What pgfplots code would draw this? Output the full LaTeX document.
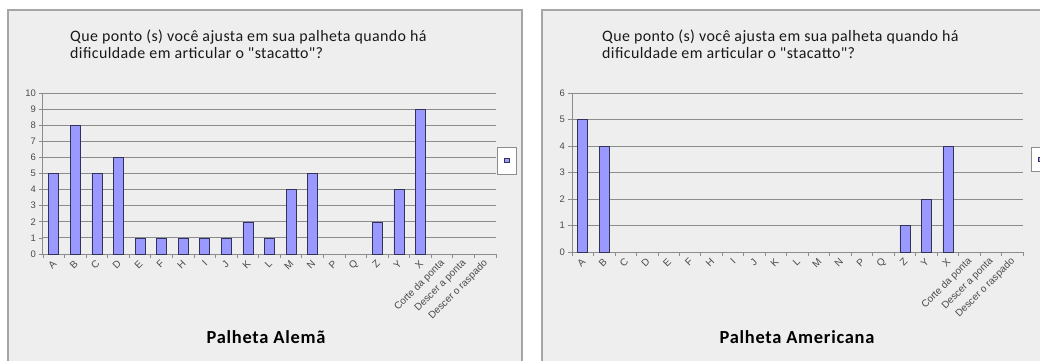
\documentclass[border=0pt]{standalone}
\usepackage{pgfplots}
\pgfplotsset{compat=1.18}
\usepackage{fontspec}
\setmainfont{Carlito}
\newfontfamily\carlito{Carlito}
\newfontfamily\arial{Liberation Sans}
\definecolor{barfill}{HTML}{9999FF}
\definecolor{baredge}{HTML}{33335A}
\definecolor{panelbg}{HTML}{EEEEEE}
\definecolor{gridc}{HTML}{8C8C8C}
\definecolor{tickc}{HTML}{4A4A4A}
\definecolor{borderc}{HTML}{A6A6A6}

\pgfplotsset{panel/.style={
 scale only axis, anchor=south west,
 xmin=-0.5, xmax=20.5, ymin=0,
 axis lines=left, axis line style={-, draw=gridc, line width=1bp},
 xtick={-0.5,0.5,...,20.5},
 xticklabels={},
 extra x ticks={0,1,...,20},
 extra x tick labels={A,B,C,D,E,F,H,I,J,K,L,M,N,P,Q,Z,Y,X,Corte da ponta,Descer a ponta,Descer o raspado},
 extra x tick style={major tick length=0pt, tick style={draw=none},
   ticklabel style={yshift=-8bp, xshift=1bp, rotate=45, anchor=east, font=\arial\fontsize{10}{11}\selectfont, text=tickc, inner sep=0pt}},
 tick align=outside,
 major tick length=4bp,
 tick style={draw=gridc, line width=0.8bp},
 ytick distance=1,
 ymajorgrids, grid style={draw=gridc, line width=1bp},
 yticklabel style={font=\arial\fontsize{9.5}{10}\selectfont, text=tickc, inner sep=1bp, xshift=-2bp},
 /pgf/number format/assume math mode=true,
 ybar, bar width=10bp,
 y filter/.expression={y==0 ? nan : y},
 clip=false,
}}

\pgfplotstableread{
x y
0 5
1 8
2 5
3 6
4 1
5 1
6 1
7 1
8 1
9 2
10 1
11 4
12 5
13 0
14 0
15 2
16 4
17 9
18 0
19 0
20 0
}\alema

\pgfplotstableread{
x y
0 5
1 4
2 0
3 0
4 0
5 0
6 0
7 0
8 0
9 0
10 0
11 0
12 0
13 0
14 0
15 1
16 2
17 4
18 0
19 0
20 0
}\americana

\begin{document}
\begin{tikzpicture}
\useasboundingbox (0,0) rectangle (1040bp,-361bp);
% panels
\fill[white] (0,0) rectangle (1040bp,-361bp);
\fill[panelbg] (8bp,-10bp) rectangle (522bp,-380bp);
\draw[borderc, line width=1.6bp] (8bp,-380bp) -- (8bp,-10bp) -- (522bp,-10bp) -- (522bp,-380bp);
\fill[panelbg] (542bp,-10bp) rectangle (1060bp,-380bp);
\draw[borderc, line width=1.6bp] (542bp,-380bp) -- (542bp,-10bp) -- (1060bp,-10bp);

% titles
\node[anchor=base west, align=left, inner sep=0pt, font=\carlito\addfontfeatures{LetterSpace=2.6}\fontsize{16}{17}\selectfont, text=black!90] at (70bp,-58bp)
 {Que ponto (s) você ajusta em sua palheta quando há\\dificuldade em articular o "stacatto"?};
\node[anchor=base west, align=left, inner sep=0pt, font=\carlito\addfontfeatures{LetterSpace=2.6}\fontsize{16}{17}\selectfont, text=black!90] at (602bp,-58bp)
 {Que ponto (s) você ajusta em sua palheta quando há\\dificuldade em articular o "stacatto"?};

\begin{axis}[panel, at={(43bp,-254bp)}, width=453bp, height=161bp, ymax=10]
\addplot[fill=barfill, draw=baredge, line width=0.6bp] table[x=x,y=y] {\alema};
\end{axis}

\begin{axis}[panel, at={(572bp,-252bp)}, width=451bp, height=159bp, ymax=6]
\addplot[fill=barfill, draw=baredge, line width=0.6bp] table[x=x,y=y] {\americana};
\end{axis}

% bottom titles
\node[anchor=base, inner sep=0pt, font=\carlito\bfseries\addfontfeatures{LetterSpace=4}\fontsize{18.5}{20}\selectfont] at (266bp,-343bp) {Palheta Alemã};
\node[anchor=base, inner sep=0pt, font=\carlito\bfseries\addfontfeatures{LetterSpace=4}\fontsize{18.5}{20}\selectfont] at (797bp,-343bp) {Palheta Americana};

% legend boxes
\draw[fill=white, draw=gridc, line width=0.8bp] (497bp,-147bp) rectangle (516bp,-174bp);
\fill[barfill, draw=baredge, line width=0.4bp] (504bp,-158.5bp) rectangle (509.5bp,-162.5bp);
\draw[fill=white, draw=gridc, line width=0.8bp] (1031bp,-147bp) rectangle (1050bp,-171bp);
\fill[barfill, draw=baredge, line width=0.4bp] (1038bp,-157bp) rectangle (1043.5bp,-161bp);
\end{tikzpicture}
\end{document}
